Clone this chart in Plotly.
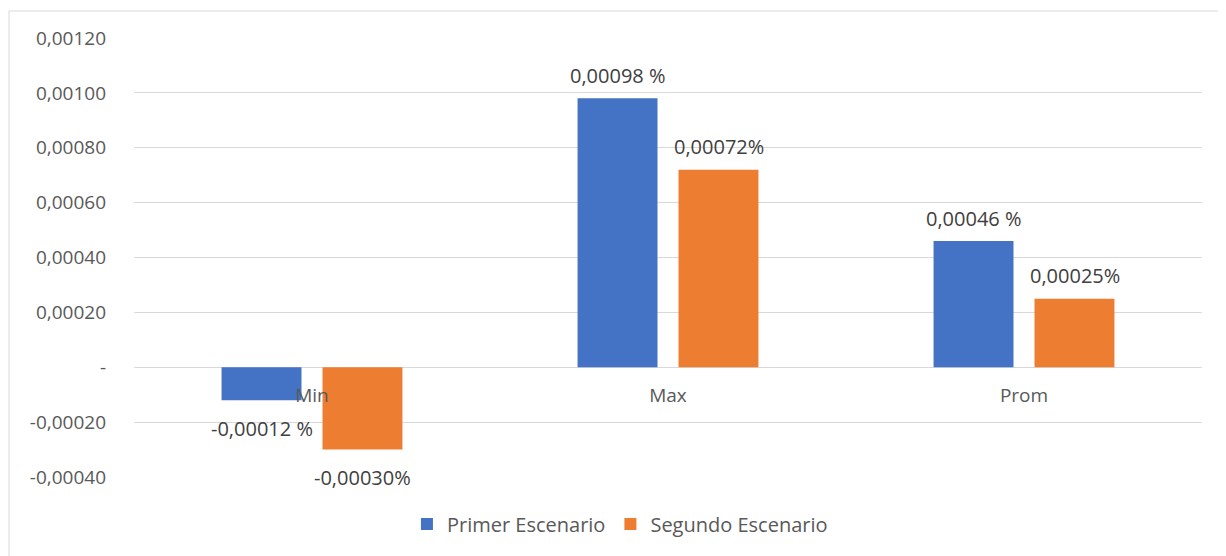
import plotly.graph_objects as go

categories = ["Min", "Max", "Prom"]
series_names = ["Primer Escenario", "Segundo Escenario"]
primer = [-0.00012, 0.00098, 0.00046]
segundo = [-0.00030, 0.00072, 0.00025]
primer_labels = ["-0,00012 %", "0,00098 %", "0,00046 %"]
segundo_labels = ["-0,00030%", "0,00072%", "0,00025%"]
y_tickvals = [-0.0004, -0.0002, 0, 0.0002, 0.0004, 0.0006, 0.0008, 0.0010, 0.0012]
y_ticktext = ["-0,00040", "-0,00020", "-", "0,00020", "0,00040", "0,00060",
              "0,00080", "0,00100", "0,00120"]

FONT = "Open Sans"
GRAY = "#595959"
LABEL = "#404040"
colors = ["#4472C4", "#ED7D31"]

fig = go.Figure()
for name, vals, col in zip(series_names, [primer, segundo], colors):
    fig.add_trace(go.Bar(x=categories, y=vals, name=name, marker_color=col,
                         marker_line_width=0))

# data labels via annotations offset to each bar of the group
half_slot = 50.5
for vals, labels, sign in [(primer, primer_labels, -1), (segundo, segundo_labels, 1)]:
    for c, v, t in zip(categories, vals, labels):
        fig.add_annotation(x=c, y=v, text=t, showarrow=False, xref="x", yref="y",
                           xshift=sign * half_slot, yshift=23 if v >= 0 else -28,
                           font=dict(family=FONT, size=20, color=LABEL))

fig.update_layout(
    width=1226, height=556,
    margin=dict(l=126, r=32, t=30, b=87),
    paper_bgcolor="white", plot_bgcolor="white",
    barmode="group", bargap=0.433, bargroupgap=0.208,
    font=dict(family=FONT, size=19, color=GRAY),
    showlegend=True,
    legend=dict(orientation="h", x=0.455, xanchor="center", y=-0.107, yanchor="middle",
                font=dict(family=FONT, size=20, color=GRAY), itemwidth=30,
                traceorder="normal"),
    xaxis=dict(anchor="free", position=0.25, showgrid=False, showline=False,
               ticks="", zeroline=False, automargin=False, ticklabelstandoff=15,
               tickfont=dict(family=FONT, size=19, color=GRAY)),
    yaxis=dict(range=[-0.0004, 0.0012], tickvals=y_tickvals, ticktext=y_ticktext,
               showgrid=True, gridcolor="#d9d9d9", gridwidth=1, zeroline=True,
               zerolinecolor="#d9d9d9", zerolinewidth=1, showline=False, ticks="",
               ticklabelstandoff=27, automargin=False,
               tickfont=dict(family=FONT, size=19, color=GRAY)),
)
fig.add_shape(type="rect", xref="paper", yref="paper",
              x0=-0.117, x1=1.05, y0=-0.25, y1=1.0615,
              line=dict(color="#d9d9d9", width=1), layer="below")

fig.write_html("out.html")
